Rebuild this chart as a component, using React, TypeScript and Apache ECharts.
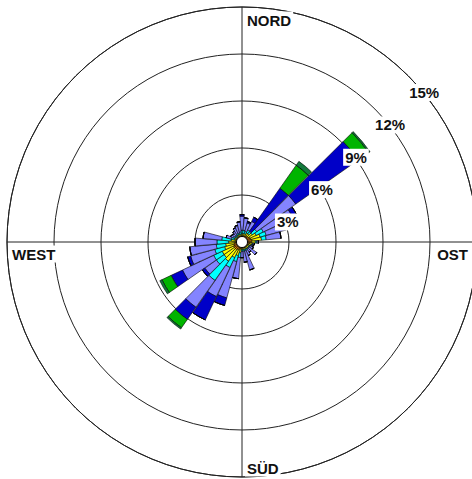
import React, { useEffect, useRef } from "react";
import * as echarts from "echarts";

// 36 wind directions (degrees, clockwise from north)
const directions = [
  "0°", "10°", "20°", "30°", "40°", "50°", "60°", "70°", "80°",
  "90°", "100°", "110°", "120°", "130°", "140°", "150°", "160°", "170°",
  "180°", "190°", "200°", "210°", "220°", "230°", "240°", "250°", "260°",
  "270°", "280°", "290°", "300°", "310°", "320°", "330°", "340°", "350°",
];

// frequency (%) per direction for each wind speed class, inner to outer
const class1 = [0.4, 0.4, 0.4, 0.45, 0.45, 0.5, 0.55, 0.6, 0.65, 0.6, 0.5, 0.45, 0.4, 0.4, 0.4, 0.4, 0.4, 0.4, 0.4, 0.45, 0.5, 0.55, 0.6, 0.6, 0.6, 0.55, 0.5, 0.45, 0.4, 0.4, 0.4, 0.4, 0.4, 0.4, 0.4, 0.4];
const class2 = [0.15, 0.15, 0.15, 0.2, 0.2, 0.3, 0.45, 0.6, 0.6, 0.25, 0.15, 0.15, 0.1, 0.1, 0.1, 0.1, 0.1, 0.1, 0.1, 0.25, 0.4, 0.55, 0.9, 0.8, 0.8, 0.6, 0.55, 0.4, 0.3, 0.1, 0.1, 0.05, 0.05, 0.1, 0.1, 0.1];
const class3 = [0.2, 0.2, 0.15, 0.2, 0.15, 0.35, 0.5, 0.4, 0.3, 0.1, 0.05, 0.05, 0.05, 0.05, 0.05, 0.1, 0.1, 0.1, 0.1, 0.3, 0.4, 0.7, 1.5, 0.6, 0.6, 0.65, 0.6, 0.75, 0.6, 0.2, 0.1, 0.1, 0.1, 0.1, 0.1, 0.15];
const class4 = [0.9, 0.8, 0.55, 0.6, 0.05, 3.05, 2.1, 1.3, 0.95, 0.1, 0.1, 0.1, 0.25, 0.6, 0.25, 0.35, 1.25, 0.7, 0.4, 1.35, 2.4, 2.05, 2.1, 0.9, 2.2, 1.6, 1.7, 1.4, 1.2, 0.35, 0.2, 0.2, 0.3, 0.4, 0.5, 0.65];
const class5 = [0.1, 0, 0.1, 0.3, 3.35, 4.9, 0.3, 0, 0, 0, 0, 0, 0, 0, 0, 0, 0, 0, 0, 0, 0.5, 1.65, 0.95, 0.2, 0.8, 0.2, 0, 0, 0, 0, 0, 0, 0, 0, 0, 0];
const class6 = [0, 0, 0, 0, 1.8, 0.8, 0, 0, 0, 0, 0, 0, 0, 0, 0, 0, 0, 0, 0, 0, 0, 0, 0.65, 0, 0.65, 0, 0, 0, 0, 0, 0, 0, 0, 0, 0, 0];
const class7 = [0, 0, 0, 0, 0.3, 0.1, 0, 0, 0, 0, 0, 0, 0, 0, 0, 0, 0, 0, 0, 0, 0, 0, 0.1, 0, 0.15, 0, 0, 0, 0, 0, 0, 0, 0, 0, 0, 0];

const classNames = ["Klasse 1", "Klasse 2", "Klasse 3", "Klasse 4", "Klasse 5", "Klasse 6", "Klasse 7"];
const classColors = ["#FF8C00", "#FFFF00", "#00FFFF", "#8484FF", "#0000C8", "#00B400", "#137a3c"];

// ring tick labels (%)
const ringMax = 15;
const ringStep = 3;
const compassLabels = ["NORD", "OST", "SÜD", "WEST"];

const CX = 242;
const CY = 242;
const R = 235;

export default function App() {
  const ref = useRef<HTMLDivElement>(null);

  useEffect(() => {
    if (!ref.current) return;
    const chart = echarts.init(ref.current, undefined, { renderer: "svg" });
    const classData = [class1, class2, class3, class4, class5, class6, class7];
    const font = "'Liberation Sans', Arial, sans-serif";

    const labelStyle = {
      fill: "#111",
      font: `bold 15px ${font}`,
      backgroundColor: "#fff",
      padding: [1, 2],
    } as any;

    const option: any = {
      animation: false,
      backgroundColor: "#fff",
      polar: [
        { center: [CX, CY], radius: R },
        { center: [CX, CY], radius: R },
        { center: [CX, CY], radius: R },
      ],
      angleAxis: [
        {
          polarIndex: 0,
          type: "category",
          data: directions,
          startAngle: 95,
          clockwise: true,
          boundaryGap: true,
          axisLine: { show: false },
          axisTick: { show: false },
          axisLabel: { show: false },
          splitLine: { show: false },
        },
        {
          polarIndex: 1,
          type: "value",
          min: 0,
          max: 360,
          interval: 90,
          startAngle: 90,
          clockwise: true,
          axisLine: { show: true, lineStyle: { color: "#222", width: 1 } },
          axisTick: { show: false },
          axisLabel: { show: false },
          splitLine: { show: true, lineStyle: { color: "#222", width: 1 } },
        },
        {
          polarIndex: 2,
          type: "value",
          min: 0,
          max: 360,
          startAngle: 43.5,
          axisLine: { show: false },
          axisTick: { show: false },
          axisLabel: { show: false },
          splitLine: { show: false },
        },
      ],
      radiusAxis: [
        {
          polarIndex: 0,
          type: "value",
          min: 0,
          max: ringMax,
          axisLine: { show: false },
          axisTick: { show: false },
          axisLabel: { show: false },
          splitLine: { show: false },
        },
        {
          polarIndex: 1,
          type: "value",
          min: 0,
          max: ringMax,
          interval: ringStep,
          axisLine: { show: false },
          axisTick: { show: false },
          axisLabel: { show: false },
          splitLine: { show: true, lineStyle: { color: "#222", width: 1 } },
        },
        {
          polarIndex: 2,
          type: "value",
          min: 0,
          max: ringMax,
          interval: ringStep,
          z: 20,
          axisLine: { show: false },
          axisTick: { show: false },
          splitLine: { show: false },
          axisLabel: {
            show: true,
            showMinLabel: false,
            showMaxLabel: true,
            formatter: "{value}%",
            margin: -17,
            align: "center",
            verticalAlign: "middle",
            fontFamily: font,
            fontWeight: "bold",
            fontSize: 15,
            color: "#111",
            backgroundColor: "#fff",
            padding: [1, 2],
          },
        },
      ],
      series: [
        ...classData.map((d, i) => ({
          name: classNames[i],
          type: "bar",
          coordinateSystem: "polar",
          polarIndex: 0,
          stack: "wind",
          barCategoryGap: "4%",
          data: d,
          z: 3,
          itemStyle: { color: classColors[i], borderColor: "#000", borderWidth: 0.6 },
          silent: true,
        })),
        {
          type: "pie",
          center: [CX, CY],
          radius: [0, 5.5],
          z: 10,
          silent: true,
          label: { show: false },
          labelLine: { show: false },
          itemStyle: { color: "#fff", borderColor: "#000", borderWidth: 1 },
          data: [{ value: 1, name: "" }],
        },
      ],
      graphic: [
        { type: "text", x: CX + 3, y: CY - R + 13, z: 30, style: { ...labelStyle, text: compassLabels[0], textVerticalAlign: "middle", textAlign: "left" } },
        { type: "text", x: CX + R - 7, y: CY + 12, z: 30, style: { ...labelStyle, text: compassLabels[1], textVerticalAlign: "middle", textAlign: "right" } },
        { type: "text", x: CX + 3, y: CY + R - 9, z: 30, style: { ...labelStyle, text: compassLabels[2], textVerticalAlign: "middle", textAlign: "left" } },
        { type: "text", x: CX - R + 3, y: CY + 12, z: 30, style: { ...labelStyle, text: compassLabels[3], textVerticalAlign: "middle", textAlign: "left" } },
      ],
    };

    chart.setOption(option);
    return () => chart.dispose();
  }, []);

  return (
    <div
      ref={ref}
      style={{ position: "fixed", left: 0, top: 0, width: 472, height: 479, background: "#fff" }}
    />
  );
}
